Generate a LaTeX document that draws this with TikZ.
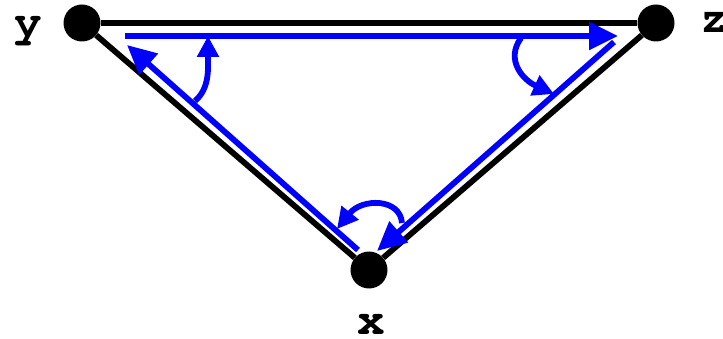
\documentclass[tikz,border=0pt]{standalone}
\usepackage{fontspec}
\newfontfamily\labelfont{TeX Gyre Cursor}
\usepackage{tikz}
\usetikzlibrary{arrows.meta, positioning}

\tikzset{
  vertex/.style={circle, fill=black, inner sep=0pt, minimum size=37pt},
  vlabel/.style={anchor=base, inner sep=0pt, font=\fontsize{46}{46}\selectfont\labelfont\bfseries},
  edge/.style={line width=5.8pt, black},
  walk/.style={line width=5.8pt, blue, -{Triangle[length=29pt, width=27pt]}},
  turn/.style={line width=5.8pt, blue, -{Triangle[length=21pt, width=21pt]}}
}

\begin{document}
\begin{tikzpicture}[x=1pt, y=-1pt]
\useasboundingbox (0,0) rectangle (723,339);
% vertices
\node[vertex] (y) at (82,23) {};
\node[vertex] (z) at (656,23) {};
\node[vertex] (x) at (369,270) {};
\node[vlabel] (ylab) at (28,37) {y};
\node[vlabel] (zlab) at (714,33) {z};
\node[vlabel] (xlab) at (371,334) {x};
% triangle
\draw[edge] (y) -- (z);
\draw[edge] (y) -- (x);
\draw[edge] (x) -- (z);
% walk around the triangle
\coordinate (ytop) at (125,36);
\coordinate (ztop) at (618,36);
\coordinate (zside) at (614,42);
\coordinate (xright) at (377,251);
\coordinate (xleft) at (358,250);
\coordinate (yside) at (127,45);
\draw[walk] (ytop) -- (ztop);
\draw[walk] (zside) -- (xright);
\draw[walk] (xleft) -- (yside);
% turning arrows
\coordinate (t1a) at (195,101);
\coordinate (t1b) at (208,36);
\coordinate (t2a) at (521,38);
\coordinate (t2b) at (554,94);
\coordinate (t3a) at (402,223);
\coordinate (t3b) at (337,229);
\draw[turn] (t1a) .. controls (210,88) and (208,68) .. (t1b);
\draw[turn] (t2a) .. controls (505,60) and (523,80) .. (t2b);
\draw[turn] (t3a) .. controls (400,198) and (362,198) .. (t3b);
\end{tikzpicture}
\end{document}
